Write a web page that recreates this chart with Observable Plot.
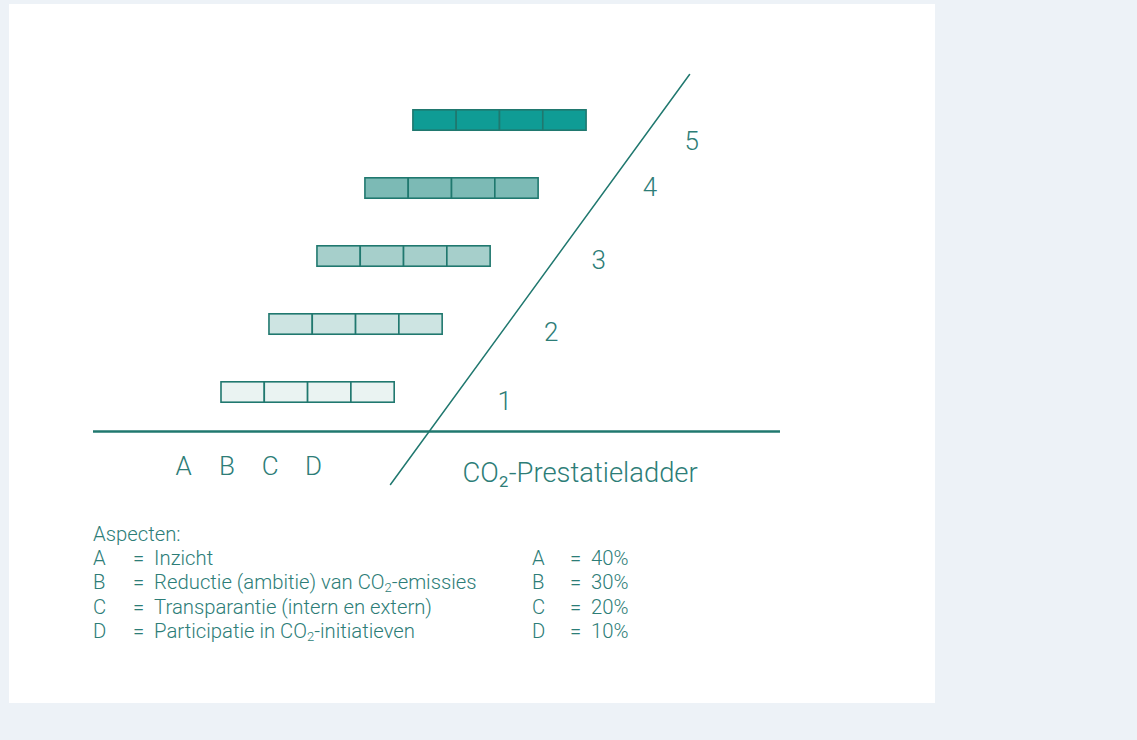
<!DOCTYPE html>
<html>
<head>
<meta charset="utf-8">
<script src="https://cdn.jsdelivr.net/npm/d3@7"></script>
<script src="https://cdn.jsdelivr.net/npm/@observablehq/plot@0.6"></script>
<style>
  html, body { margin: 0; padding: 0; background: #edf2f7; width: 1137px; height: 740px; overflow: hidden; }
  #panel { position: absolute; left: 9px; top: 4px; width: 926px; height: 699px; background: #ffffff; }
  #chart svg { display: block; }
  #legend { position: absolute; left: 84px; top: 518px; font-family: Roboto, "Liberation Sans", sans-serif; font-weight: 300; font-size: 20.3px; line-height: 24.5px; color: #2d7d77; }
  #legend .grid { display: grid; grid-template-columns: 40px 399px 38px auto; margin-top: -1px; }
  #legend sub { font-size: 13px; vertical-align: -3px; line-height: 0; }
</style>
</head>
<body>
<div id="panel">
  <div id="chart"></div>
  <div id="legend"></div>
</div>
<script>
// ---- data ----
const levels = [1, 2, 3, 4, 5];
const aspects = ["A", "B", "C", "D"];
const aspectNames = [
  "Inzicht",
  "Reductie (ambitie) van CO<sub>2</sub>-emissies",
  "Transparantie (intern en extern)",
  "Participatie in CO<sub>2</sub>-initiatieven"
];
const weights = [40, 30, 20, 10];
const legendTitle = "Aspecten:";
const ladderTitle = "CO₂-Prestatieladder";

// ---- layout helpers (chart units: x = one aspect cell, y = one ladder level) ----
const SHIFT = 1.108;      // horizontal step between levels
const BAR_H = 0.30;       // bar thickness in level units
const BASE = 0.426;       // baseline level
const diagBottom = {x: 3.903, y: -0.353};
const diagTop = {x: 10.81, y: 5.676};
const diagX = y => diagBottom.x + (y - diagBottom.y) * (diagTop.x - diagBottom.x) / (diagTop.y - diagBottom.y);
const labelNudgeY = [-0.14, -0.125, -0.065, 0.01, -0.31];   // layout only
const labelNudgeX = [0.14, 0.05, -0.07, -0.115, 0.07];      // layout only
const labelY = L => L + labelNudgeY[L - 1];

const cells = levels.flatMap(L => aspects.map((a, k) => ({level: L, aspect: a, k})));

const teal = "#20786f";
const textColor = "#2d7d77";
const font = "Roboto, 'Liberation Sans', sans-serif";

const chart = Plot.plot({
  width: 926,
  height: 510,
  margin: 0,
  style: {fontFamily: font, background: "transparent"},
  x: {domain: [-4.896, 16.49], axis: null},
  y: {domain: [-0.794, 6.706], axis: null},
  color: {type: "ordinal", domain: levels, range: ["#eaf3f2", "#cde4e2", "#a6cfcb", "#7cbab5", "#0f9c95"]},
  marks: [
    Plot.rect(cells, {
      x1: d => (d.level - 1) * SHIFT + d.k,
      x2: d => (d.level - 1) * SHIFT + d.k + 1,
      y1: d => d.level - BAR_H / 2,
      y2: d => d.level + BAR_H / 2,
      fill: "level",
      stroke: teal,
      strokeWidth: 1.6
    }),
    Plot.ruleY([BASE], {x1: -2.956, x2: 12.91, stroke: teal, strokeWidth: 2.6}),
    Plot.line([diagBottom, diagTop], {x: "x", y: "y", stroke: teal, strokeWidth: 1.5}),
    Plot.text(levels, {
      x: d => diagX(labelY(d)) + 1.11 + labelNudgeX[d - 1],
      y: d => labelY(d),
      text: d => String(d),
      fill: textColor,
      fontSize: 26,
      fontWeight: 300
    }),
    Plot.text(aspects, {
      x: (d, i) => i - 0.875,
      y: -0.088,
      text: d => d,
      fill: textColor,
      fontSize: 26,
      fontWeight: 300
    }),
    Plot.text([ladderTitle], {
      x: 5.566,
      y: -0.18,
      text: d => d,
      textAnchor: "start",
      fill: textColor,
      fontSize: 27.4,
      fontWeight: 300
    })
  ]
});
document.getElementById("chart").appendChild(chart);

// ---- legend ----
const legend = document.getElementById("legend");
const title = document.createElement("div");
title.textContent = legendTitle;
legend.appendChild(title);
const grid = document.createElement("div");
grid.className = "grid";
aspects.forEach((a, i) => {
  const cellsHtml = [a, "=&nbsp;&nbsp;" + aspectNames[i], a, "=&nbsp;&nbsp;" + weights[i] + "%"];
  cellsHtml.forEach(h => {
    const s = document.createElement("span");
    s.innerHTML = h;
    grid.appendChild(s);
  });
});
legend.appendChild(grid);
</script>
</body>
</html>
